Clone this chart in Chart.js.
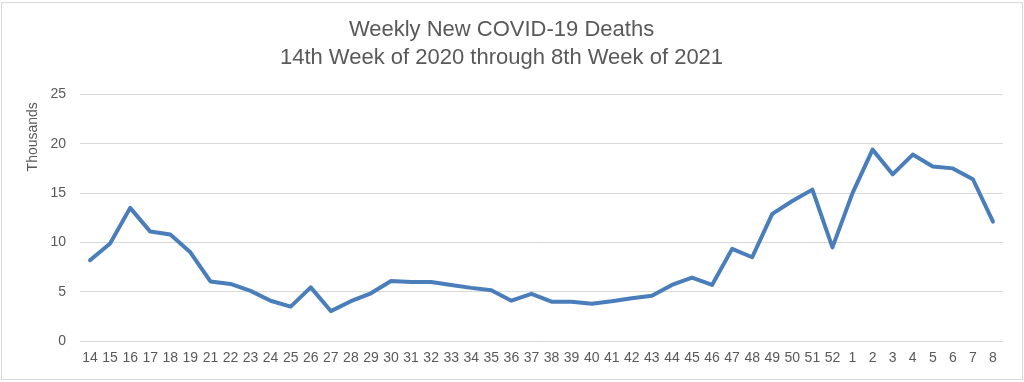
<!DOCTYPE html>
<html>
<head>
<meta charset="utf-8">
<script src="https://cdn.jsdelivr.net/npm/chart.js@4"></script>
<style>
    body{ margin:0; background:#ffffff; }
    #box{ width:1024px; height:382px; }
</style>
</head>
<body>
<div id="box"><canvas id="deathsChart" width="1024" height="382"></canvas></div>
<script>

// 周数：2020 年第 14 周到 2021 年第 8 周（原图没有第 20 周）
const weeks = ["14","15","16","17","18","19","21","22","23","24","25","26","27","28","29","30",
    "31","32","33","34","35","36","37","38","39","40","41","42","43","44","45","46","47","48",
    "49","50","51","52","1","2","3","4","5","6","7","8"];

// 每周新增死亡（千）
const deaths = [8.2, 9.9, 13.5, 11.1, 10.8, 9.0, 6.05, 5.8, 5.1, 4.1, 3.5, 5.45, 3.05, 4.05,
    4.85, 6.1, 6.0, 6.0, 5.7, 5.4, 5.15, 4.1, 4.8, 4.0, 4.0, 3.8, 4.05, 4.35, 4.6, 5.7, 6.45,
    5.7, 9.35, 8.5, 12.9, 14.2, 15.35, 9.5, 15.0, 19.4, 16.9, 18.9, 17.7, 17.5, 16.4, 12.1];

const yTicks = [0, 5, 10, 15, 20, 25];

const titleLines = ["Weekly New COVID-19 Deaths", "14th Week of 2020 through 8th Week of 2021"];

const fontFamily = "'Liberation Sans', sans-serif";
const textColor = "#595959";

// 白底和外框
const framePlugin = {
    id:"frame",
    beforeDraw(chart){
        const ctx = chart.ctx;
        ctx.save();
        ctx.fillStyle = "#ffffff";
        ctx.fillRect(0, 0, chart.width, chart.height);
        ctx.strokeStyle = "#d9d9d9";
        ctx.lineWidth = 1;
        ctx.strokeRect(1.5, 2.5, chart.width - 3, chart.height - 5);
        ctx.restore();
    }
};

// Excel 风格的 "Thousands" 单位标签，放在 y 轴上部
const unitLabelPlugin = {
    id:"unitLabel",
    afterDraw(chart){
        const ctx = chart.ctx;
        const y = chart.scales.y;
        ctx.save();
        ctx.translate(33, y.getPixelForValue(20.7));
        ctx.rotate(-Math.PI / 2);
        ctx.font = "14px " + fontFamily;
        ctx.fillStyle = textColor;
        ctx.textAlign = "center";
        ctx.textBaseline = "middle";
        ctx.fillText("Thousands", 0, 0);
        ctx.restore();
    }
};

new Chart(document.getElementById("deathsChart"), {
    type:"line",
    data:{
        labels:weeks,
        datasets:[{
            label:"Deaths",
            data:deaths,
            borderColor:"#4a7ebb",
            borderWidth:4,
            pointRadius:0,
            tension:0,
            borderJoinStyle:"round",
            borderCapStyle:"round"
        }]
    },
    options:{
        responsive:false,
        animation:false,
        layout:{
            padding:{ top:4, right:21, bottom:6, left:0 }
        },
        plugins:{
            legend:{ display:false },
            tooltip:{ enabled:false },
            title:{
                display:true,
                text:titleLines,
                color:textColor,
                font:{ family:fontFamily, size:22, weight:"normal", lineHeight:1.28 },
                padding:{ top:12, bottom:22 }
            }
        },
        scales:{
            x:{
                offset:true,
                grid:{ display:false, drawTicks:false },
                border:{ display:false },
                ticks:{
                    color:textColor,
                    font:{ family:fontFamily, size:14 },
                    maxRotation:0,
                    autoSkip:false,
                    padding:9
                }
            },
            y:{
                min:0,
                max:25,
                afterBuildTicks(scale){
                    scale.ticks = yTicks.map(v => ({ value:v }));
                },
                afterFit(scale){
                    scale.width = 80;
                },
                grid:{ color:"#d9d9d9", lineWidth:1, drawTicks:false },
                border:{ display:false },
                ticks:{
                    color:textColor,
                    font:{ family:fontFamily, size:14 },
                    padding:14
                }
            }
        }
    },
    plugins:[framePlugin, unitLabelPlugin]
});

</script>
</body>
</html>
